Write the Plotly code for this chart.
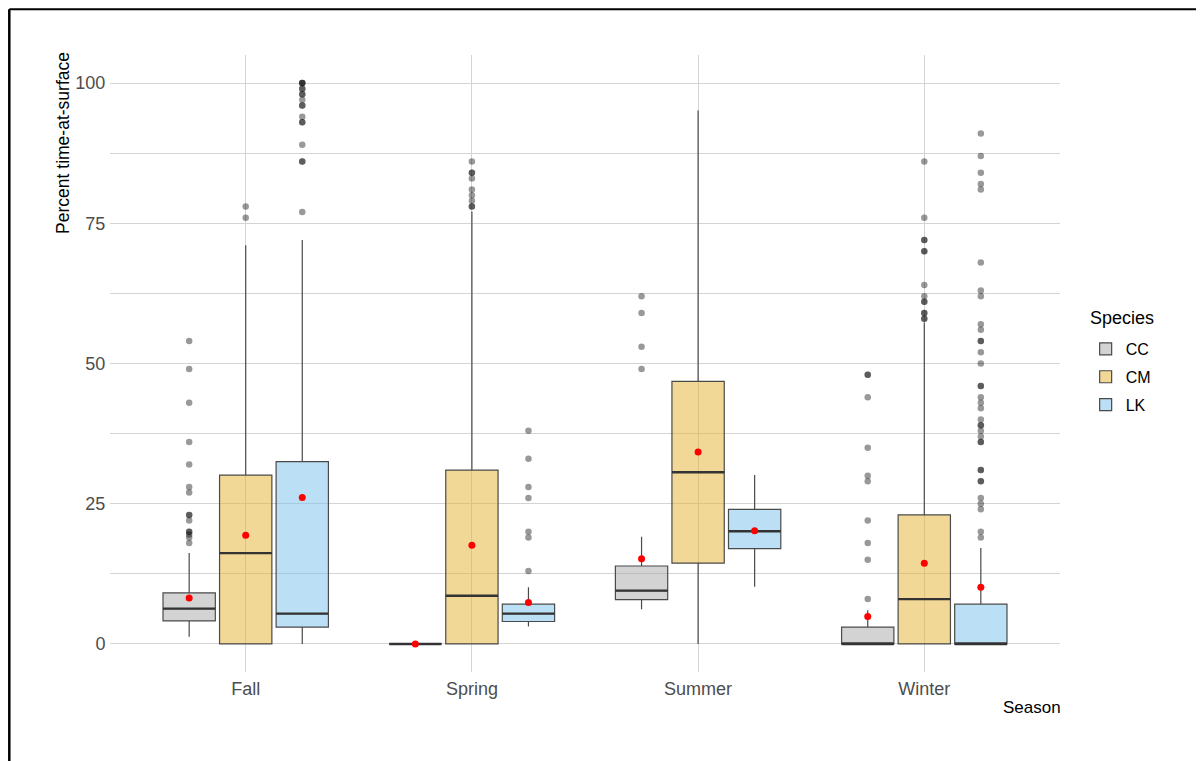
import plotly.graph_objects as go

seasons = ["Fall", "Spring", "Summer", "Winter"]
species = ["CC", "CM", "LK"]

# box statistics per species (order follows seasons)
q1 = {
    "CC": [4.1, 0.0, 7.9, 0.0],
    "CM": [0.0, 0.0, 14.4, 0.0],
    "LK": [3.0, 4.0, 17.0, 0.0],
}
median = {
    "CC": [6.3, 0.0, 9.5, 0.0],
    "CM": [16.2, 8.6, 30.6, 8.0],
    "LK": [5.4, 5.4, 20.1, 0.0],
}
q3 = {
    "CC": [9.1, 0.0, 13.9, 3.0],
    "CM": [30.1, 31.0, 46.8, 23.0],
    "LK": [32.5, 7.1, 24.0, 7.1],
}
lower = {
    "CC": [1.3, 0.0, 6.2, 0.0],
    "CM": [0.0, 0.0, 0.0, 0.0],
    "LK": [0.0, 3.1, 10.2, 0.0],
}
upper = {
    "CC": [16.2, 0.0, 19.1, 6.0],
    "CM": [71.1, 77.1, 95.1, 57.3],
    "LK": [72.0, 10.1, 30.1, 17.1],
}
means = {
    "CC": [8.2, 0.0, 15.2, 4.9],
    "CM": [19.4, 17.6, 34.2, 14.4],
    "LK": [26.1, 7.4, 20.2, 10.1],
}

outliers_cc = {
    "Fall": [54, 49, 43, 36, 32, 28, 27, 23, 23, 22, 20, 20, 19.5, 19, 18],
    "Spring": [],
    "Summer": [62, 59, 53, 49],
    "Winter": [48, 48, 44, 35, 30, 29, 22, 18, 15, 8],
}
outliers_cm = {
    "Fall": [78, 76],
    "Spring": [86, 84, 84, 83, 81, 80, 79, 78, 78],
    "Summer": [],
    "Winter": [86, 76, 72, 72, 70, 70, 64, 62, 61, 61, 59, 59, 58, 58],
}
outliers_lk = {
    "Fall": [100, 100, 100, 99, 99, 98, 98, 97, 96, 96, 94, 93, 93, 89, 86, 86, 77],
    "Spring": [38, 33, 28, 26, 20, 19, 13],
    "Summer": [],
    "Winter": [91, 87, 84, 82, 81, 68, 63, 62, 57, 56, 54, 54, 52, 50, 46, 46, 44,
               43, 42, 40, 39, 39, 38, 37, 36, 36, 31, 31, 29, 29, 26, 25, 24, 20, 19],
}
outliers = {"CC": outliers_cc, "CM": outliers_cm, "LK": outliers_lk}

fills = {
    "CC": "rgba(167,167,167,0.5)",
    "CM": "rgba(229,177,45,0.5)",
    "LK": "rgba(119,193,235,0.5)",
}

FONT = "Liberation Sans, Arial, sans-serif"
fig = go.Figure()
clear = "rgba(0,0,0,0)"

for sp in species:
    common = dict(offsetgroup=sp, alignmentgroup="a", legendgroup=sp)
    fig.add_trace(go.Box(
        name=sp, x=seasons, q1=q1[sp], median=median[sp], q3=q3[sp],
        lowerfence=lower[sp], upperfence=upper[sp],
        fillcolor=fills[sp], line=dict(color="#4a4a4a", width=1.2),
        whiskerwidth=0, boxpoints=False, hoverinfo="skip", **common))
    fig.add_trace(go.Box(
        name=sp, x=seasons, q1=median[sp], median=median[sp], q3=median[sp],
        lowerfence=median[sp], upperfence=median[sp],
        fillcolor=clear, line=dict(color="#333333", width=2.4),
        whiskerwidth=0, boxpoints=False, showlegend=False, hoverinfo="skip", **common))
    ox, oy = [], []
    for s in seasons:
        for v in outliers[sp][s]:
            ox.append(s)
            oy.append(v)
    fig.add_trace(go.Box(
        name=sp, x=ox, y=oy, boxpoints="all", jitter=0, pointpos=0,
        fillcolor=clear, line=dict(color=clear, width=0),
        marker=dict(color="rgba(0,0,0,0.4)", size=6.5),
        showlegend=False, hoverinfo="y", **common))
    fig.add_trace(go.Box(
        name=sp, x=seasons, y=means[sp], boxpoints="all", jitter=0, pointpos=0,
        fillcolor=clear, line=dict(color=clear, width=0),
        marker=dict(color="#ff0000", size=7),
        showlegend=False, hoverinfo="y", **common))

grid = "#d4d4d4"
fig.update_layout(
    width=1196, height=753,
    margin=dict(l=102, r=144, t=47, b=89),
    paper_bgcolor="white", plot_bgcolor="white",
    boxmode="group", boxgap=0.25, boxgroupgap=0.075,
    font=dict(family=FONT, color="#000000"),
    legend=dict(
        font=dict(size=16, color="#000000"),
        x=1.027, y=0.551, xanchor="left", yanchor="top",
        tracegroupgap=4, bgcolor=clear,
    ),
    xaxis=dict(
        type="category", categoryorder="array", categoryarray=seasons,
        range=[-0.6, 3.6], showgrid=True, gridcolor=grid, gridwidth=1,
        showline=False, zeroline=False,
        ticks="outside", ticklen=0, tickcolor=clear,
        tickfont=dict(size=18, color="#4d4d4d", family=FONT),
    ),
    yaxis=dict(
        range=[-5, 105], tickvals=[0, 25, 50, 75, 100],
        showgrid=True, gridcolor=grid, gridwidth=1,
        minor=dict(tickvals=[12.5, 37.5, 62.5, 87.5], showgrid=True,
                   gridcolor=grid, gridwidth=1),
        showline=False, zeroline=False,
        ticks="outside", ticklen=0, tickcolor=clear,
        tickfont=dict(size=18, color="#4d4d4d", family=FONT),
    ),
    annotations=[
        dict(text="Species", xref="paper", yref="paper", x=1.0295, y=0.5737,
             xanchor="left", yanchor="middle", showarrow=False,
             font=dict(size=18, color="#000000", family=FONT)),
        dict(text="Season", xref="paper", yref="paper", x=1.003, y=-0.057,
             xanchor="right", yanchor="middle", showarrow=False,
             font=dict(size=17, color="#000000", family=FONT)),
        dict(text="Percent time-at-surface", xref="paper", yref="paper",
             x=-0.049, y=1.009, xanchor="center", yanchor="top", textangle=-90,
             showarrow=False, font=dict(size=17.5, color="#000000", family=FONT)),
    ],
    shapes=[
        dict(type="line", xref="paper", yref="paper", x0=-0.106, x1=1.2,
             y0=1.074, y1=1.074, line=dict(color="black", width=2)),
        dict(type="line", xref="paper", yref="paper", x0=-0.106, x1=-0.106,
             y0=1.074, y1=-0.2, line=dict(color="black", width=2.5)),
    ],
)

fig.write_html("out.html")
